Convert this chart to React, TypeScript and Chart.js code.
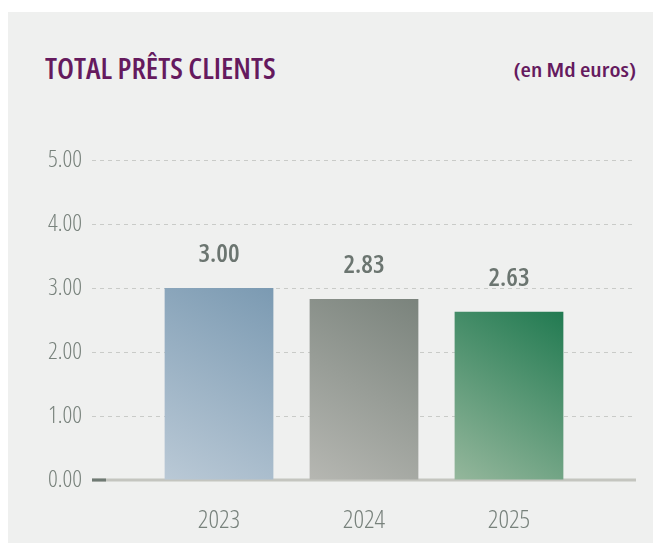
import React, { useEffect, useRef } from "react";
import { Chart, registerables } from "chart.js";
Chart.register(...registerables);

const categories = ["2023", "2024", "2025"];
const values = [3.0, 2.83, 2.63];
const yMin = 0;
const yMax = 5;
const yStep = 1;
const titleText = "TOTAL PRÊTS CLIENTS";
const unitText = "(en Md euros)";

const FONT = '"Open Sans", sans-serif';
const gradTop = ["#7b9ab2", "#7a837c", "#217a51"];
const gradBottom = ["#bac9d6", "#b6b7b2", "#95b79c"];

export default function App() {
  const ref = useRef<HTMLCanvasElement | null>(null);
  useEffect(() => {
    if (!ref.current) return;
    const barFill = (ctx: any) => {
      const chart = ctx.chart;
      const i = ctx.dataIndex;
      const { scales, chartArea } = chart;
      if (!chartArea || !scales.x || !scales.y) return gradTop[i];
      const cx = scales.x.getPixelForValue(i);
      const top = scales.y.getPixelForValue(values[i]);
      const bottom = scales.y.getPixelForValue(0);
      const g = chart.ctx.createLinearGradient(cx + 55, top, cx - 55, bottom);
      g.addColorStop(0, gradTop[i]);
      g.addColorStop(1, gradBottom[i]);
      return g;
    };
    const basePlugin = {
      id: "base",
      beforeDatasetsDraw(chart: any) {
        const { ctx, chartArea, scales } = chart;
        const y0 = scales.y.getPixelForValue(0);
        ctx.save();
        ctx.strokeStyle = "#c4c5bf";
        ctx.lineWidth = 3;
        ctx.beginPath();
        ctx.moveTo(chartArea.left, y0);
        ctx.lineTo(chartArea.right, y0);
        ctx.stroke();
        ctx.strokeStyle = "#6f7a73";
        ctx.beginPath();
        ctx.moveTo(chartArea.left, y0);
        ctx.lineTo(chartArea.left + 14, y0);
        ctx.stroke();
        ctx.restore();
      },
      afterDatasetsDraw(chart: any) {
        const { ctx } = chart;
        const meta = chart.getDatasetMeta(0);
        ctx.save();
        ctx.fillStyle = "#6b7570";
        ctx.font = `600 condensed 26px ${FONT}`;
        ctx.textAlign = "center";
        ctx.textBaseline = "middle";
        meta.data.forEach((el: any, i: number) => {
          ctx.fillText(values[i].toFixed(2), el.x, el.y - 33);
        });
        ctx.restore();
      },
    };
    const chart = new Chart(ref.current, {
      type: "bar",
      data: {
        datasets: [
          {
            data: values.map((v, i) => ({ x: i, y: v })),
            backgroundColor: barFill as any,
            borderWidth: 0,
            categoryPercentage: 1,
            barPercentage: 0.75,
          },
        ],
      },
      options: {
        animation: false,
        responsive: false,
        maintainAspectRatio: false,
        layout: { padding: { top: 148, right: 25, bottom: 0, left: 0 } },
        plugins: { legend: { display: false }, tooltip: { enabled: false }, title: { display: false } },
        scales: {
          x: {
            type: "linear",
            offset: false,
            min: -0.876,
            max: 2.876,
            afterBuildTicks: (scale: any) => {
              scale.ticks = categories.map((_, i) => ({ value: i }));
            },
            afterFit: (scale: any) => {
              scale.height = 63;
            },
            grid: { display: false, drawTicks: false },
            border: { display: false },
            ticks: {
              callback: (v: any) => categories[v as number] ?? "",
              color: "#78827c",
              font: { family: FONT, size: 26, weight: "300 condensed" as any },
              padding: 25,
              maxRotation: 0,
            },
          },
          y: {
            min: yMin,
            max: yMax,
            afterFit: (scale: any) => {
              scale.width = 84;
            },
            ticks: {
              stepSize: yStep,
              callback: (v: any) => Number(v).toFixed(2),
              color: "#78827c",
              font: { family: FONT, size: 24, weight: "300 condensed" as any },
              padding: 10,
            },
            grid: {
              drawTicks: false,
              color: (c: any) => (c.tick && c.tick.value === 0 ? "rgba(0,0,0,0)" : "#c9cbc8"),
              lineWidth: 1,
            },
            border: { display: false, dash: [4, 4] },
          },
        },
      },
      plugins: [basePlugin],
    });
    return () => chart.destroy();
  }, []);

  return (
    <div
      style={{
        position: "relative",
        marginTop: 4,
        width: 653,
        height: 531,
        background: "#eff0ef",
        overflow: "hidden",
      }}
    >
      <div
        style={{
          position: "absolute",
          left: 37,
          top: 41,
          fontFamily: FONT,
          fontStretch: "condensed",
          fontWeight: 600,
          fontSize: 29,
          lineHeight: "29px",
          color: "#651a5e",
          whiteSpace: "nowrap",
          transform: "scaleX(1.03)",
          transformOrigin: "left center",
        }}
      >
        {titleText}
      </div>
      <div
        style={{
          position: "absolute",
          right: 25,
          top: 48,
          fontFamily: FONT,
          fontStretch: "condensed",
          fontWeight: 600,
          fontSize: 20,
          lineHeight: "20px",
          color: "#651a5e",
          whiteSpace: "nowrap",
          transform: "scaleX(1.19)",
          transformOrigin: "right center",
        }}
      >
        {unitText}
      </div>
      <canvas ref={ref} width={653} height={531} style={{ position: "absolute", left: 0, top: 0 }} />
    </div>
  );
}
